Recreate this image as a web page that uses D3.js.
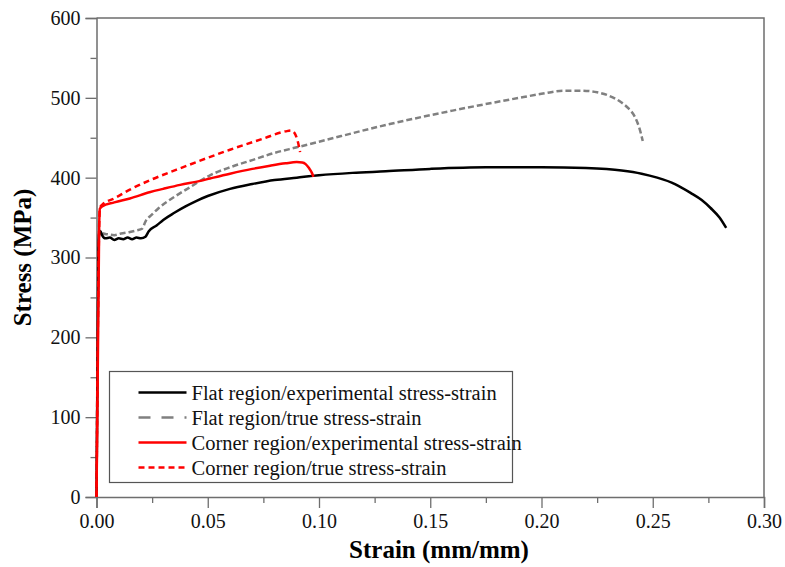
<!DOCTYPE html>
<html>
<head>
<meta charset="utf-8">
<script src="https://cdn.jsdelivr.net/npm/d3@7"></script>
<style>
  body { margin: 0; background: #fff; }
  svg text { font-family: "Liberation Serif", "Times New Roman", serif; }
</style>
</head>
<body>
<div id="chart"></div>
<script>
// strain (mm/mm), stress (MPa)
const flatExperimental = [
  [0, 0], [0.0008, 300], [0.0012, 330], [0.0018, 333], [0.0025, 328], [0.004, 324],
  [0.006, 325], [0.008, 322], [0.010, 324], [0.012, 323], [0.014, 325], [0.016, 323],
  [0.018, 325], [0.020, 324], [0.022, 326], [0.0235, 333], [0.027, 340], [0.030, 347],
  [0.035, 356], [0.040, 364], [0.045, 371], [0.050, 377], [0.060, 386], [0.070, 392],
  [0.080, 397], [0.090, 400], [0.100, 403], [0.115, 406], [0.130, 408], [0.150, 411],
  [0.175, 413], [0.200, 413], [0.220, 412], [0.236, 409], [0.245, 405], [0.252, 400],
  [0.260, 392], [0.267, 381], [0.272, 372], [0.276, 362], [0.280, 350], [0.283, 337]
];
const flatTrue = [
  [0, 0], [0.0012, 331], [0.0018, 334], [0.003, 330], [0.005, 329], [0.008, 328],
  [0.011, 330], [0.015, 332], [0.018, 334], [0.0205, 336], [0.022, 345], [0.025, 354],
  [0.028, 362], [0.035, 376], [0.042, 388], [0.051, 403], [0.060, 413], [0.070, 422],
  [0.080, 431], [0.090, 438], [0.100, 445], [0.130, 466], [0.160, 484], [0.190, 500],
  [0.200, 505], [0.210, 509], [0.218, 509], [0.225, 507], [0.230, 503], [0.235, 496],
  [0.239, 487], [0.242, 476], [0.244, 462], [0.2455, 446]
];
const cornerExperimental = [
  [0, 0], [0.0012, 340], [0.0015, 361], [0.0025, 364], [0.008, 369], [0.015, 374],
  [0.0242, 382], [0.030, 386], [0.0376, 391], [0.0466, 396], [0.051, 399], [0.060, 405],
  [0.070, 411], [0.078, 415], [0.085, 418], [0.090, 419.5], [0.0925, 419], [0.094, 417],
  [0.0955, 412], [0.0968, 406], [0.0975, 401]
];
const cornerTrue = [
  [0, 0], [0.0012, 340], [0.0015, 362], [0.0025, 366], [0.008, 374], [0.015, 385],
  [0.0242, 397], [0.036, 410], [0.060, 435], [0.075, 449], [0.085, 458], [0.0875, 459],
  [0.089, 456], [0.0905, 445], [0.0915, 432]
];

const seriesNames = [
  'Flat region/experimental stress-strain',
  'Flat region/true stress-strain',
  'Corner region/experimental stress-strain',
  'Corner region/true stress-strain'
];
const xTicks = [0, 0.05, 0.10, 0.15, 0.20, 0.25, 0.30];
const yTicks = [0, 100, 200, 300, 400, 500, 600];

const W = 785, H = 567;
const margin = {top: 18, right: 21, bottom: 70, left: 96.5};
const width = W - margin.left - margin.right;
const height = H - margin.top - margin.bottom;
const axisColor = '#6e6e6e';

const svg = d3.select('#chart').append('svg')
  .attr('width', W)
  .attr('height', H);

const g = svg.append('g')
  .attr('transform', `translate(${margin.left},${margin.top})`);

const x = d3.scaleLinear().domain([0, 0.30]).range([0, width]);
const y = d3.scaleLinear().domain([0, 600]).range([height, 0]);

// frame (top and right sides)
g.append('path')
  .attr('d', `M0,0H${width}V${height}`)
  .attr('fill', 'none')
  .attr('stroke', axisColor)
  .attr('stroke-width', 1.5);

// minor ticks
const xMinor = d3.range(0.025, 0.30, 0.05);
const yMinor = d3.range(50, 600, 100);

g.append('g')
  .attr('transform', `translate(0,${height})`)
  .call(d3.axisBottom(x).tickValues(xTicks).tickFormat(d3.format('.2f')).tickSize(11).tickPadding(6));
g.append('g')
  .attr('transform', `translate(0,${height})`)
  .call(d3.axisBottom(x).tickValues(xMinor).tickFormat('').tickSize(6))
  .select('.domain').remove();

g.append('g')
  .call(d3.axisLeft(y).tickValues(yTicks).tickFormat(d3.format('d')).tickSize(11).tickPadding(5));
g.append('g')
  .call(d3.axisLeft(y).tickValues(yMinor).tickFormat('').tickSize(6))
  .select('.domain').remove();

g.selectAll('.domain').attr('stroke', axisColor).attr('stroke-width', 1.5);
g.selectAll('.tick line').attr('stroke', axisColor).attr('stroke-width', 1.3);
g.selectAll('.tick text')
  .attr('fill', '#111')
  .attr('font-family', '"Liberation Serif", serif')
  .style('font-family', '"Liberation Serif", serif')
  .style('font-size', '20px');

// axis titles
svg.append('text')
  .attr('x', 439)
  .attr('y', 558)
  .attr('text-anchor', 'middle')
  .style('font-size', '25px')
  .style('font-weight', 'bold')
  .text('Strain (mm/mm)');

svg.append('text')
  .attr('transform', `translate(31,${margin.top + height / 2}) rotate(-90)`)
  .attr('text-anchor', 'middle')
  .style('font-size', '25px')
  .style('font-weight', 'bold')
  .text('Stress (MPa)');

// curves
const line = d3.line()
  .x(d => x(d[0]))
  .y(d => y(d[1]))
  .curve(d3.curveMonotoneX);

const styles = [
  {data: flatExperimental, color: '#000000', dash: null, legendDash: null},
  {data: flatTrue, color: '#808080', dash: '6,3', legendDash: '12,11'},
  {data: cornerExperimental, color: '#ff0000', dash: null, legendDash: null},
  {data: cornerTrue, color: '#ff0000', dash: '6,4', legendDash: '6,4'}
];

[1, 0, 3, 2].forEach(i => {
  const s = styles[i];
  g.append('path')
    .datum(s.data)
    .attr('d', line)
    .attr('fill', 'none')
    .attr('stroke', s.color)
    .attr('stroke-width', 2.5)
    .attr('stroke-dasharray', s.dash);
});

// legend
const legend = svg.append('g')
  .attr('transform', 'translate(109.5,371.5)');

legend.append('rect')
  .attr('width', 403)
  .attr('height', 111)
  .attr('fill', '#fff')
  .attr('stroke', '#555')
  .attr('stroke-width', 1.2);

styles.forEach((s, i) => {
  const yy = 21 + i * 25;
  legend.append('line')
    .attr('x1', 29)
    .attr('x2', 77)
    .attr('y1', yy)
    .attr('y2', yy)
    .attr('stroke', s.color)
    .attr('stroke-width', 2.5)
    .attr('stroke-dasharray', s.legendDash);
  legend.append('text')
    .attr('x', 82)
    .attr('y', yy + 7)
    .style('font-size', '20.5px')
    .attr('fill', '#111')
    .text(seriesNames[i]);
});
</script>
</body>
</html>
